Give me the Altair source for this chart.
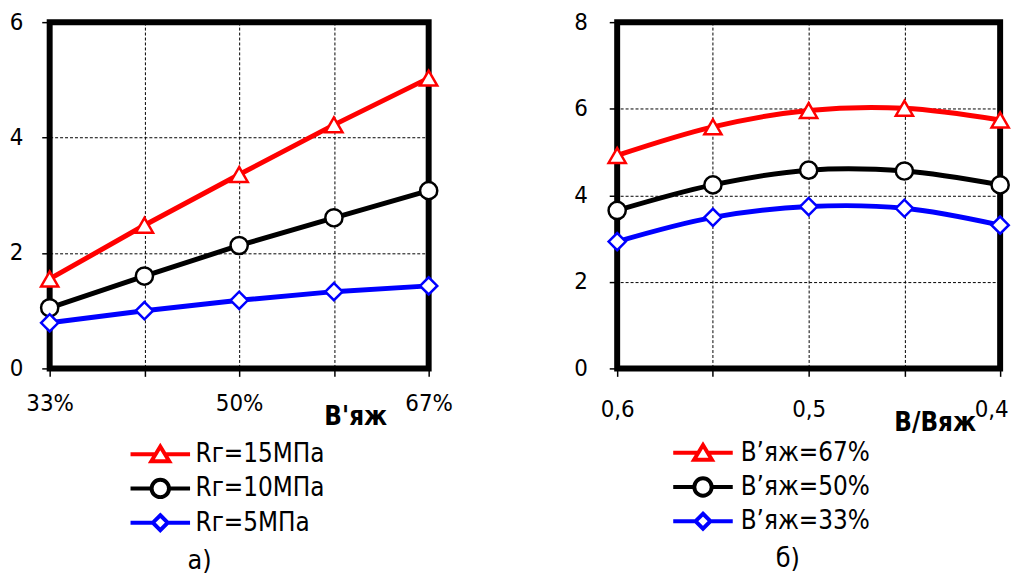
import altair as alt
import pandas as pd

FONT = "DejaVu Sans Condensed"

# ---------- panel a) ----------
a_x = [33, 41.5, 50, 58.5, 67]
a_tick_labels = ["33%", "", "50%", "", "67%"]
a_series = ["Rг=15МПа", "Rг=10МПа", "Rг=5МПа"]
a_r15 = [1.55, 2.48, 3.36, 4.22, 5.03]
a_r10 = [1.05, 1.60, 2.13, 2.61, 3.08]
a_r5 = [0.79, 1.00, 1.18, 1.33, 1.43]

# ---------- panel б) ----------
b_x = [0.6, 0.55, 0.5, 0.45, 0.4]
b_tick_labels = ["0,6", "", "0,5", "", "0,4"]
b_series = ["В’яж=67%", "В’яж=50%", "В’яж=33%"]
b_67 = [4.92, 5.58, 5.96, 6.01, 5.74]
b_50 = [3.65, 4.24, 4.58, 4.56, 4.24]
b_33 = [2.93, 3.49, 3.74, 3.70, 3.31]

colors = ["#ff0000", "#000000", "#0000ff"]
point_shapes = ["triangle-up", "circle", "diamond"]
legend_paths = [
    "M-2.4,0H-0.42M0.42,0H2.4M0,-0.62L0.72,0.56L-0.72,0.56Z",
    "M-2.4,0H-0.7M0.7,0H2.4M0.7,0A0.7,0.7 0 1,1 -0.7,0A0.7,0.7 0 1,1 0.7,0Z",
    "M-2.4,0H-0.6M0.6,0H2.4M0,-0.6L0.6,0L0,0.6L-0.6,0Z",
]


def make_df(xs, series, ys_list):
    rows = []
    for s, ys in zip(series, ys_list):
        for x, y in zip(xs, ys):
            rows.append({"x": x, "y": y, "s": s})
    return pd.DataFrame(rows)


def label_expr(values, labels):
    expr = "''"
    for v, l in reversed(list(zip(values, labels))):
        expr = f"datum.value == {v} ? '{l}' : ({expr})"
    return expr


def panel(df, xs, tick_labels, series, xtitle, reverse, ymax, width, height,
          interp, title_text, title_dx, legend_x, legend_y, label_offset,
          title_x, title_y, xlab_pad, ylab_pad, last_label_shift):
    last_val = xs[-1]
    xenc = alt.X(
        "x:Q",
        scale=alt.Scale(domain=[min(xs), max(xs)], nice=False, zero=False, reverse=reverse),
        axis=alt.Axis(
            values=xs, labelExpr=label_expr(xs, tick_labels), title=xtitle,
            titleX=title_x, titleY=title_y, titleAlign="center", titleBaseline="alphabetic",
            titleFont=FONT, titleFontSize=26, titleFontWeight="bold", titleColor="black",
            labelFont=FONT, labelFontSize=24, labelColor="black", labelPadding=xlab_pad,
            labelFlush=False, labelOverlap=False,
            labelOffset={"condition": {"test": f"datum.value == {last_val}", "value": last_label_shift}, "value": 0},
            tickSize=8, tickColor="black", tickWidth=1.5, domain=False,
            grid=True, gridColor="black", gridDash=[3, 2], gridWidth=1, gridOpacity=1,
        ),
    )
    yenc = alt.Y(
        "y:Q",
        scale=alt.Scale(domain=[0, ymax], nice=False),
        axis=alt.Axis(
            values=list(range(0, ymax + 1, 2)), title=None,
            labelFont=FONT, labelFontSize=24, labelColor="black", labelPadding=ylab_pad,
            labelFlush=False,
            tickSize=8, tickColor="black", tickWidth=1.5, domain=False,
            grid=True, gridColor="black", gridDash=[3, 2], gridWidth=1, gridOpacity=1,
        ),
    )
    cscale = alt.Scale(domain=series, range=colors)
    lines = alt.Chart(df).mark_line(strokeWidth=5, interpolate=interp, strokeCap="round").encode(
        x=xenc, y=yenc, color=alt.Color("s:N", scale=cscale, legend=None)
    )
    points = alt.Chart(df).mark_point(
        filled=False, fill="white", strokeWidth=2.5, size=300, opacity=1
    ).encode(
        x=xenc, y=yenc,
        color=alt.Color("s:N", scale=cscale, legend=None),
        shape=alt.Shape("s:N", scale=alt.Scale(domain=series, range=point_shapes), legend=None),
    )
    leg = alt.Legend(
        title=None, orient="none", legendX=legend_x, legendY=legend_y,
        labelFont=FONT, labelFontSize=26, labelColor="black", labelOffset=label_offset,
        symbolSize=625, symbolStrokeWidth=4, symbolFillColor="white",
        rowPadding=1.5, padding=0,
    )
    legend_layer = alt.Chart(df).transform_filter("false").mark_point(
        filled=False, fill="white", strokeWidth=4, opacity=1
    ).encode(
        x=xenc, y=yenc,
        color=alt.Color("s:N", scale=cscale, legend=leg),
        shape=alt.Shape("s:N", scale=alt.Scale(domain=series, range=legend_paths), legend=leg),
    )
    return alt.layer(lines, points, legend_layer).resolve_scale(
        color="independent", shape="independent"
    ).properties(
        width=width, height=height,
        title=alt.TitleParams(
            text=title_text, orient="bottom", anchor="middle", dx=title_dx,
            font=FONT, fontSize=27, fontWeight="normal", color="black", offset=10,
        ),
    )


df_a = make_df(a_x, a_series, [a_r15, a_r10, a_r5])
df_b = make_df(b_x, b_series, [b_67, b_50, b_33])

left = panel(df_a, a_x, a_tick_labels, a_series, "В'яж", False, 6, 382, 349,
             "linear", "а)", -40, 97, 421, 21, 308, 57, 15, 19, 0)
right = panel(df_b, b_x, b_tick_labels, b_series, "В/Вяж", True, 8, 386, 349,
              "catmull-rom", "б)", -21, 72, 419.5, 23.5, 320, 63, 21, 22, -9)

chart = alt.hconcat(left, right, spacing=116).configure(
    padding={"left": -2, "top": -3, "right": 0, "bottom": 0}
).configure_view(stroke="black", strokeWidth=6)

chart.save("out.html", embed_options={"renderer": "svg", "actions": False})
